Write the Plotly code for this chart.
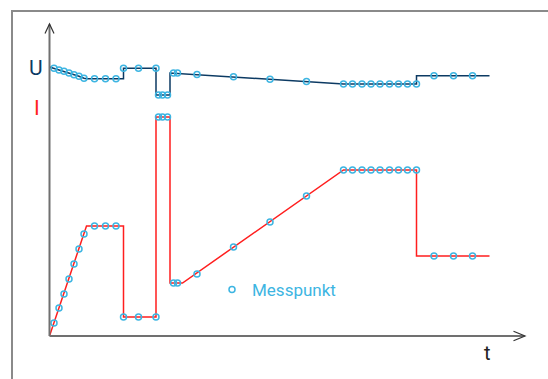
import plotly.graph_objects as go

# Time axis (arbitrary units) and signal levels (arbitrary units)
# Voltage U: path of the curve
u_path_t = [0, 4.5, 9.5, 14.5, 19.5, 24.5, 29.5, 34.5, 37, 74, 74, 106.5, 106.5,
            120.5, 120.5, 294, 367, 367, 440]
u_path_v = [269, 267.7, 266, 264.7, 263, 261.3, 259.7, 257.7, 257.3, 257.3, 267.7,
            267.7, 241, 241, 263, 252, 252, 260.3, 260.3]

# Current I: path of the curve
i_path_t = [0, 37, 74, 74, 106.5, 106.5, 120.5, 120.5, 133, 294, 367, 367, 440]
i_path_v = [0, 110, 110, 19, 19, 219, 219, 53, 53, 166, 166, 80, 80]

# Measuring points
mp_t = [4.5, 9.5, 14.5, 19.5, 24.5, 29.5, 34.5,
        45, 56, 66.5,
        74, 89, 106.5,
        109, 113, 118,
        124, 128,
        147.5, 184, 220.5, 257,
        294, 303, 312.5, 321.5, 330.5, 340, 349, 358, 367,
        384.5, 404, 423]
mp_u = [267.7, 266, 264.7, 263, 261.3, 259.7, 257.7,
        257.3, 257.3, 257.3,
        267.7, 267.7, 267.7,
        241, 241, 241,
        263, 263,
        261.5, 259.2, 256.8, 254.4,
        252, 252, 252, 252, 252, 252, 252, 252, 252,
        260.3, 260.3, 260.3]
mp_i = [13, 28, 42, 57, 72, 87, 102,
        110, 110, 110,
        19, 19, 19,
        219, 219, 219,
        53, 53,
        62, 89, 114, 140,
        166, 166, 166, 166, 166, 166, 166, 166, 166,
        80, 80, 80]

U_COLOR = "#0c3a63"
I_COLOR = "#ff1e1e"
MP_COLOR = "#3db5e2"
AXIS_COLOR = "#707070"
FONT = "Roboto"

fig = go.Figure()

fig.add_trace(go.Scatter(x=u_path_t, y=u_path_v, mode="lines",
                         line=dict(color=U_COLOR, width=1.5), showlegend=False,
                         hoverinfo="skip"))
fig.add_trace(go.Scatter(x=i_path_t, y=i_path_v, mode="lines",
                         line=dict(color=I_COLOR, width=1.5), showlegend=False,
                         hoverinfo="skip"))

marker_style = dict(symbol="circle-open", size=6, color=MP_COLOR,
                    line=dict(color=MP_COLOR, width=1.5))
fig.add_trace(go.Scatter(x=mp_t, y=mp_u, mode="markers", marker=marker_style,
                         name="Messpunkt", showlegend=True))
fig.add_trace(go.Scatter(x=mp_t, y=mp_i, mode="markers", marker=marker_style,
                         name="Messpunkt", showlegend=False))

shapes = [
    # frame (top and left edges)
    dict(type="path", xref="paper", yref="paper",
         path="M 0.0219,0 L 0.0219,0.971 L 1.01,0.971",
         line=dict(color="#8a8a8a", width=2)),
    # axes
    dict(type="line", x0=0, y0=0, x1=0, y1=311.5,
         line=dict(color=AXIS_COLOR, width=2)),
    dict(type="line", x0=0, y0=0, x1=475, y1=0,
         line=dict(color=AXIS_COLOR, width=2)),
    # arrow heads
    dict(type="path", path="M -4.5,302.5 L 0,312 L 4.5,302.5",
         line=dict(color="#333333", width=1.2)),
    dict(type="path", path="M 464,4.7 L 475.5,0 L 464,-4.7",
         line=dict(color="#333333", width=1.2)),
]

annotations = [
    dict(x=-13.5, y=268.5, text="U", showarrow=False,
         font=dict(family=FONT, size=21, color=U_COLOR)),
    dict(x=-12.5, y=228, text="I", showarrow=False,
         font=dict(family=FONT, size=21, color=I_COLOR)),
    dict(x=438, y=-17, text="t", showarrow=False,
         font=dict(family=FONT, size=20, color="#222222")),
]

fig.update_layout(
    width=548, height=379,
    margin=dict(l=0, r=0, t=0, b=0),
    paper_bgcolor="white", plot_bgcolor="white",
    xaxis=dict(range=[-49.5, 498.5], visible=False, fixedrange=True),
    yaxis=dict(range=[-43, 336], visible=False, fixedrange=True),
    shapes=shapes,
    annotations=annotations,
    showlegend=True,
    legend=dict(x=212 / 548, y=1 - 272 / 379, xanchor="left", yanchor="top",
                bgcolor="rgba(0,0,0,0)", borderwidth=0,
                font=dict(family=FONT, size=17, color=MP_COLOR)),
)

fig.write_html("out.html")
